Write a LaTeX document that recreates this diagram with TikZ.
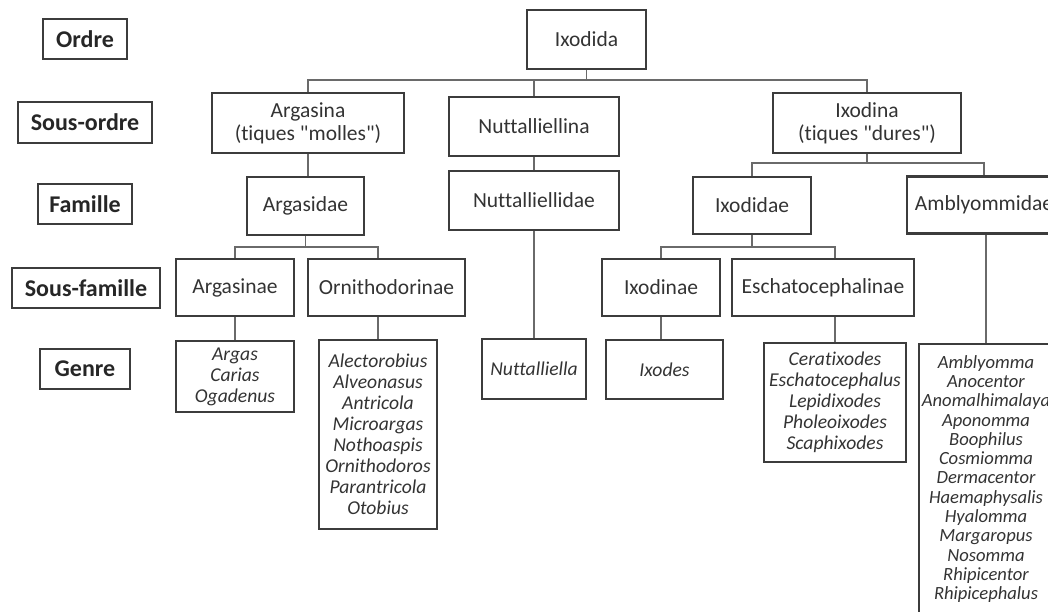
\documentclass[tikz,border=0pt]{standalone}
\usepackage{fontspec}
\newfontfamily\carlito{Carlito}[Ligatures=NoCommon]
\definecolor{boxgray}{HTML}{3C3C3C}
\definecolor{linegray}{HTML}{6A6A6A}

\begin{document}
\begin{tikzpicture}[x=0.5pt,y=-0.5pt,
    rang/.style={draw=boxgray, line width=1pt, inner sep=0pt, minimum height=20pt, text=black!85, font=\carlito\fontsize{12}{14}\selectfont\bfseries},
    taxon/.style={draw=boxgray, line width=1.1pt, inner sep=0pt, align=center, text=black!80, font=\carlito\fontsize{10.75}{11.5}\selectfont},
    genres/.style={taxon, font=\carlito\fontsize{9.8}{10.5}\selectfont\itshape},
    lien/.style={draw=linegray, line width=0.9pt}]
    \clip (0,0) rectangle (1048,611);
    % rangs
    \node[rang, minimum width=42pt] (ordre) at (85,39) {Ordre};
    \node[rang, minimum width=67pt, minimum height=20.5pt] (sousordre) at (85,122.5) {Sous-ordre};
    \node[rang, minimum width=47pt] (famille) at (85,204) {Famille};
    \node[rang, minimum width=74pt] (sousfamille) at (86,288) {Sous-famille};
    \node[rang, minimum width=45pt] (genre) at (85,369) {Genre};
    % taxons
    \node[taxon, minimum width=59.5pt, minimum height=29.5pt] (ixodida) at (586.5,39.5) {Ixodida};
    \node[taxon, minimum width=96pt, minimum height=30pt] (argasina) at (308,123) {Argasina\\(tiques "molles")};
    \node[taxon, minimum width=85pt, minimum height=29.5pt] (nuttalliellina) at (534,126.5) {Nuttalliellina};
    \node[taxon, minimum width=94pt, minimum height=30pt] (ixodina) at (867,123) {Ixodina\\(tiques "dures")};
    \node[taxon, minimum width=58.5pt, minimum height=29pt] (argasidae) at (305.5,206) {Argasidae};
    \node[taxon, minimum width=85pt, minimum height=29.5pt] (nuttalliellidae) at (534,200.5) {Nuttalliellidae};
    \node[taxon, minimum width=59pt, minimum height=28.5pt] (ixodidae) at (752,205.5) {Ixodidae};
    \node[taxon, minimum width=77pt, minimum height=28.5pt] (amblyommidae) at (984,205) {Amblyommidae};
    \node[taxon, minimum width=59pt, minimum height=28.5pt] (argasinae) at (235,287.5) {Argasinae};
    \node[taxon, minimum width=78.5pt, minimum height=28.5pt] (ornithodorinae) at (386.5,287.5) {Ornithodorinae};
    \node[taxon, minimum width=59pt, minimum height=28.5pt] (ixodinae) at (661,287.5) {Ixodinae};
    \node[taxon, minimum width=91pt, minimum height=28.5pt] (eschatocephalinae) at (823,287.5) {Eschatocephalinae};
    % genres
    \node[genres, minimum width=59pt, minimum height=35.5pt] (g-argasinae) at (235,376.5) {Argas\\Carias\\Ogadenus};
    \node[genres, minimum width=59pt, minimum height=94.5pt] (g-ornithodorinae) at (378,434.5) {Alectorobius\\Alveonasus\\Antricola\\Microargas\\Nothoaspis\\Ornithodoros\\Parantricola\\Otobius};
    \node[genres, minimum width=52pt, minimum height=30pt] (g-nuttalliellidae) at (534,369) {Nuttalliella};
    \node[genres, minimum width=58.5pt, minimum height=29.5pt] (g-ixodinae) at (664.5,369.5) {Ixodes};
    \node[genres, minimum width=71pt, minimum height=59.5pt] (g-eschatocephalinae) at (835,402.5) {Ceratixodes\\Eschatocephalus\\Lepidixodes\\Pholeoixodes\\Scaphixodes};
    \node[genres, minimum width=67pt, minimum height=135pt, font=\carlito\fontsize{9.3}{9.65}\selectfont\itshape] (g-amblyommidae) at (986,479) {Amblyomma\\Anocentor\\Anomalhimalaya\\Aponomma\\Boophilus\\Cosmiomma\\Dermacentor\\Haemaphysalis\\Hyalomma\\Margaropus\\Nosomma\\Rhipicentor\\Rhipicephalus};
    % liens
    \coordinate (bus1) at (0,80);
    \coordinate (bus2) at (0,163);
    \coordinate (bus3) at (0,247);
    \draw[lien] (ixodida.south) -- (ixodida.south |- bus1);
    \draw[lien] (argasina.north) -- (argasina.north |- bus1) -- (ixodina.north |- bus1) -- (ixodina.north);
    \draw[lien] (nuttalliellina.north) -- (nuttalliellina.north |- bus1);
    \draw[lien] (argasina.south) -- (argasina.south |- argasidae.north);
    \draw[lien] (nuttalliellina.south) -- (nuttalliellidae.north);
    \draw[lien] (ixodina.south) -- (ixodina.south |- bus2);
    \draw[lien] (ixodidae.north) -- (ixodidae.north |- bus2) -- (amblyommidae.north |- bus2) -- (amblyommidae.north);
    \draw[lien] (argasidae.south) -- (argasidae.south |- bus3);
    \draw[lien] (argasinae.north) -- (argasinae.north |- bus3) -- (g-ornithodorinae.north |- bus3) -- (g-ornithodorinae.north |- ornithodorinae.north);
    \draw[lien] (ixodidae.south) -- (ixodidae.south |- bus3);
    \draw[lien] (ixodinae.north) -- (ixodinae.north |- bus3) -- (g-eschatocephalinae.north |- bus3) -- (g-eschatocephalinae.north |- eschatocephalinae.north);
    \draw[lien] (argasinae.south) -- (argasinae.south |- g-argasinae.north);
    \draw[lien] (g-ornithodorinae.north |- ornithodorinae.south) -- (g-ornithodorinae.north);
    \draw[lien] (nuttalliellidae.south) -- (nuttalliellidae.south |- g-nuttalliellidae.north);
    \draw[lien] (ixodinae.south) -- (ixodinae.south |- g-ixodinae.north);
    \draw[lien] (g-eschatocephalinae.north |- eschatocephalinae.south) -- (g-eschatocephalinae.north);
    \draw[lien] (g-amblyommidae.north |- amblyommidae.south) -- (g-amblyommidae.north);
\end{tikzpicture}
\end{document}
